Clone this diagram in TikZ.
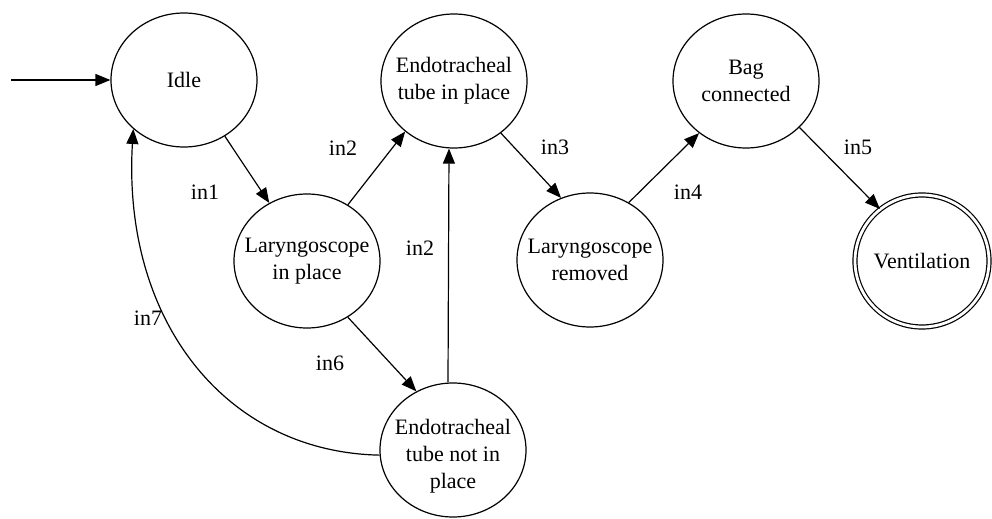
\documentclass[tikz,border=0pt]{standalone}
\usepackage{fontspec}
\setmainfont{Liberation Serif}
\newfontfamily\statefont{Liberation Serif}
\usetikzlibrary{arrows.meta,shapes.geometric}
\begin{document}
\begin{tikzpicture}[x=0.5pt,y=-0.5pt,
  every node/.style={font=\statefont\fontsize{11}{13.5}\selectfont},
  state/.style={draw,ellipse,line width=0.6pt,inner sep=0pt,
    minimum width=73pt,minimum height=67pt},
  final/.style={state,double,double distance=1.4pt,
    minimum width=67pt,minimum height=66pt},
  stext/.style={label={[align=center]center:#1}},
  arr/.style={line width=0.6pt,-{Triangle[length=7.5pt,width=6pt]}},
  lbl/.style={inner sep=0pt}]
\useasboundingbox (0,0) rectangle (992,519);

% states
\node[state,stext={Idle}] (idle) at (184,80) {};
\node[state,stext={Endotracheal\\tube in place}] (etti) at (454,81) {};
\node[state,stext={Bag\\connected}] (bag) at (746,81) {};
\node[state,stext={Laryngoscope\\in place}] (lip) at (307,261) {};
\node[state,stext={Laryngoscope\\removed}] (lrem) at (590,260) {};
\node[final,stext={Ventilation}] (vent) at (922,261) {};
\node[state,label={[align=center,yshift=-3pt]center:Endotracheal\\tube not in\\place}] (ettn) at (453,450) {};

% entry point
\coordinate (start) at (11,80);
\draw[arr] (start) -- (idle.west);

% transitions
\draw[arr] (idle.-54.5) -- (lip.123.5);
\draw[arr] (lip.54.7) -- (etti.-134);
\draw[arr] ([xshift=-2.5pt]ettn.north) -- ([xshift=-2.5pt]etti.south);
\draw[arr] (etti.-48.8) -- (lrem.115.5);
\draw[arr] (lrem.56.8) -- (bag.-132);
\draw[arr] (bag.-41) -- (vent.129.7);
\draw[arr] (lip.-54.3) -- (ettn.122.8);
\draw[arr] (ettn.-176) .. controls (225,452) and (122,320) .. (idle.-136.7);

% transition labels
\node[lbl] (l1) at (205,192) {in1};
\node[lbl] (l2a) at (343,148) {in2};
\node[lbl] (l2b) at (420,248) {in2};
\node[lbl] (l3) at (555,147) {in3};
\node[lbl] (l4) at (688,192) {in4};
\node[lbl] (l5) at (858,147) {in5};
\node[lbl] (l6) at (330,363) {in6};
\node[lbl] (l7) at (148,318) {in7};
\end{tikzpicture}
\end{document}
